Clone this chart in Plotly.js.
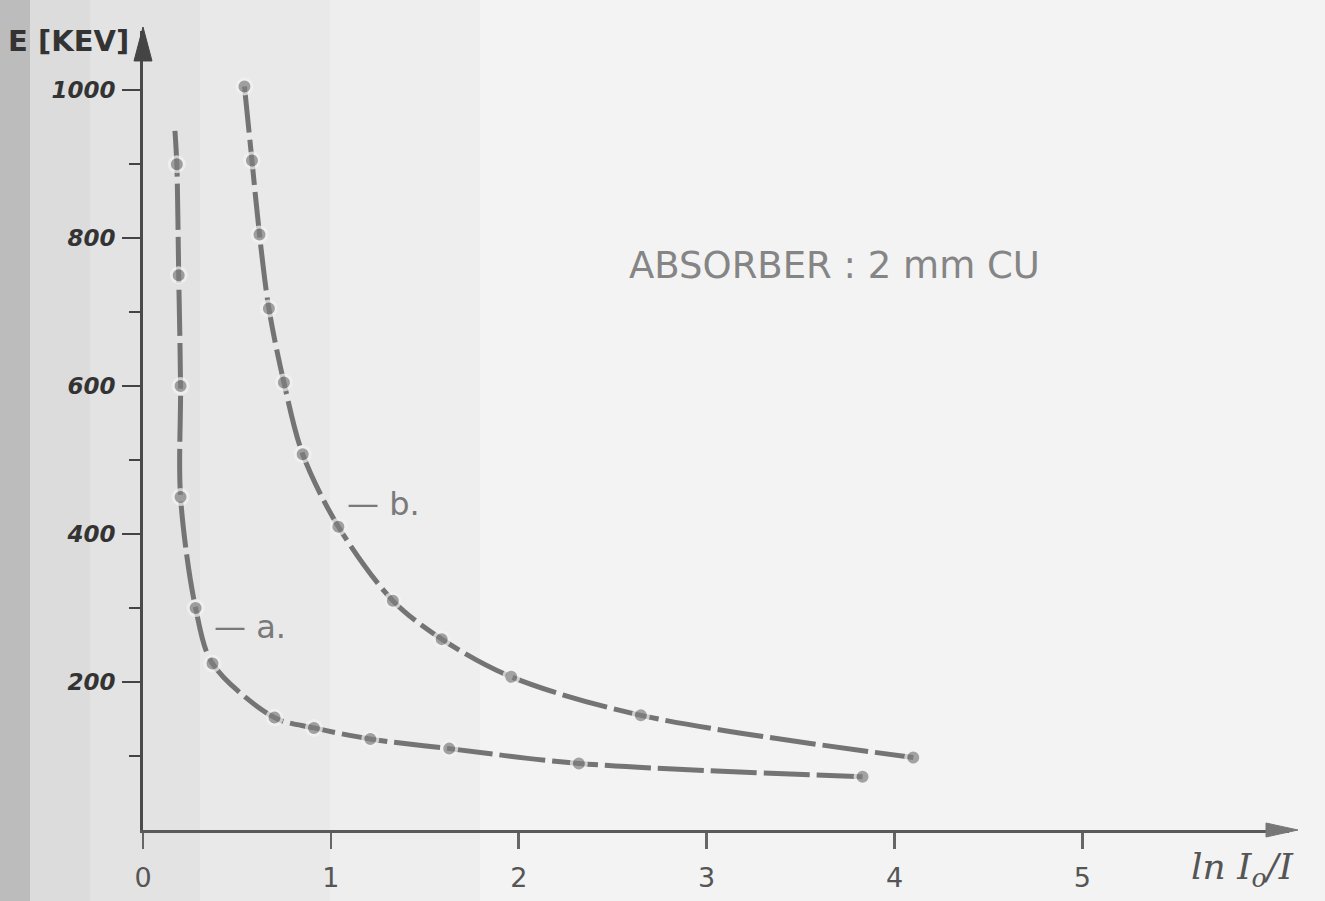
<!DOCTYPE html>
<html>
<head>
<meta charset="utf-8">
<script src="https://cdn.plot.ly/plotly-3.0.1.min.js"></script>
<style>html,body{margin:0;padding:0;background:#f3f3f3;}#chart{width:1325px;height:901px;}</style>
</head>
<body>
<div id="chart"></div>
<script>
// Curve a (ln I0/I, E in keV); first point is the line's start without a dot
const curveA_x = [0.17, 0.18, 0.19, 0.20, 0.20, 0.28, 0.37, 0.70, 0.91, 1.21, 1.63, 2.32, 3.83];
const curveA_E = [945, 900, 750, 600, 450, 300, 225, 152, 138, 123, 110, 90, 72];
const curveA_dot = [false, true, true, true, true, true, true, true, true, true, true, true, true];
// Curve b
const curveB_x = [0.54, 0.58, 0.62, 0.67, 0.75, 0.85, 1.04, 1.33, 1.59, 1.96, 2.65, 4.10];
const curveB_E = [1005, 905, 805, 705, 605, 508, 410, 310, 258, 207, 155, 98];
// Axis ticks
const xTickVals = [0, 1, 2, 3, 4, 5];
const xTickText = ['0', '1', '2', '3', '4', '5'];
const yTickVals = [200, 400, 600, 800, 1000];
const yTickText = ['200', '400', '600', '800', '1000'];
const yMinorVals = [100, 300, 500, 700, 900];

const lineColor = '#747474';
const bg = '#f3f3f3';

function curve(x, y, sizes) {
  return {
    x: x, y: y, type: 'scatter', mode: 'lines+markers',
    line: {shape: 'spline', smoothing: 0.9, color: lineColor, width: 5, dash: '46px,7px'},
    marker: {size: sizes, color: '#808080', line: {color: bg, width: 3}},
    hoverinfo: 'x+y', showlegend: false
  };
}

const traces = [
  curve(curveA_x, curveA_E, curveA_dot.map(d => d ? 15 : 0)),
  curve(curveB_x, curveB_E, curveB_x.map(() => 15))
];

// pixel -> paper helpers (plot area: x 143..1289, y 31..830)
function px(p) { return (p - 143) / 1146; }
function py(p) { return (830 - p) / 800; }
const bands = [
  [0, 30, '#bcbcbc'], [30, 90, '#dcdcdc'], [90, 200, '#e3e3e3'],
  [200, 330, '#e9e9e9'], [330, 480, '#eeeeee']
];
const shapes = bands.map(b => ({
  type: 'rect', xref: 'paper', yref: 'paper', x0: px(b[0]), x1: px(b[1]),
  y0: -0.15, y1: 1.05, fillcolor: b[2], line: {width: 0}, layer: 'below'
}));
// arrowheads
shapes.push({type: 'path', xref: 'paper', yref: 'paper',
  path: `M ${px(143)} ${py(26)} L ${px(134)} ${py(60)} L ${px(152)} ${py(60)} Z`,
  fillcolor: '#444', line: {color: '#444', width: 1}});
shapes.push({type: 'path', xref: 'paper', yref: 'paper',
  path: `M ${px(1298)} ${py(830)} L ${px(1266)} ${py(823)} L ${px(1266)} ${py(837)} Z`,
  fillcolor: '#777', line: {color: '#777', width: 1}});

const layout = {
  width: 1325, height: 901,
  margin: {l: 143, r: 36, t: 31, b: 71},
  paper_bgcolor: bg, plot_bgcolor: 'rgba(0,0,0,0)',
  font: {family: 'DejaVu Sans', color: '#444'},
  shapes: shapes,
  xaxis: {
    range: [0, 6.1], showgrid: false, zeroline: false,
    showline: true, linecolor: '#5a5a5a', linewidth: 3,
    ticks: 'outside', ticklen: 16, tickwidth: 2.5, tickcolor: '#666',
    tickmode: 'array', tickvals: xTickVals, ticktext: xTickText,
    ticklabelstandoff: 6,
    tickfont: {family: 'DejaVu Sans', size: 27, color: '#555'}
  },
  yaxis: {
    range: [0, 1080], showgrid: false, zeroline: false,
    showline: true, linecolor: '#4a4a4a', linewidth: 3,
    ticks: 'outside', ticklen: 18, tickwidth: 2.5, tickcolor: '#444',
    tickmode: 'array', tickvals: yTickVals, ticktext: yTickText,
    ticklabelstandoff: 2,
    tickfont: {family: 'DejaVu Sans', size: 23, color: '#333', style: 'italic', weight: 'bold'},
    minor: {tickmode: 'array', tickvals: yMinorVals, ticks: 'outside', ticklen: 11, tickwidth: 2.5, tickcolor: '#444'}
  },
  annotations: [
    {x: px(6), y: py(40), xref: 'paper', yref: 'paper', xanchor: 'left', yanchor: 'middle',
     text: 'E [KEV]', showarrow: false, font: {family: 'DejaVu Sans', size: 29, color: '#333', weight: 'bold'}},
    {x: 5.85, y: -40 / 800, xref: 'x', yref: 'paper', xanchor: 'center', yanchor: 'middle',
     text: 'ln I<sub>o</sub>/I', showarrow: false,
     font: {family: 'DejaVu Serif', size: 36, color: '#555', style: 'italic'}},
    {x: 3.68, y: 763, xref: 'x', yref: 'y', xanchor: 'center', yanchor: 'middle',
     text: 'ABSORBER : 2 mm CU', showarrow: false,
     font: {family: 'DejaVu Sans', size: 37, color: '#858585'}},
    {x: 0.57, y: 275, xref: 'x', yref: 'y', xanchor: 'center', yanchor: 'middle',
     text: '— a.', showarrow: false, font: {family: 'DejaVu Sans', size: 32, color: '#7a7a7a'}},
    {x: 1.28, y: 441, xref: 'x', yref: 'y', xanchor: 'center', yanchor: 'middle',
     text: '— b.', showarrow: false, font: {family: 'DejaVu Sans', size: 32, color: '#7a7a7a'}}
  ]
};

Plotly.newPlot('chart', traces, layout, {displayModeBar: false, staticPlot: true});
</script>
</body>
</html>
